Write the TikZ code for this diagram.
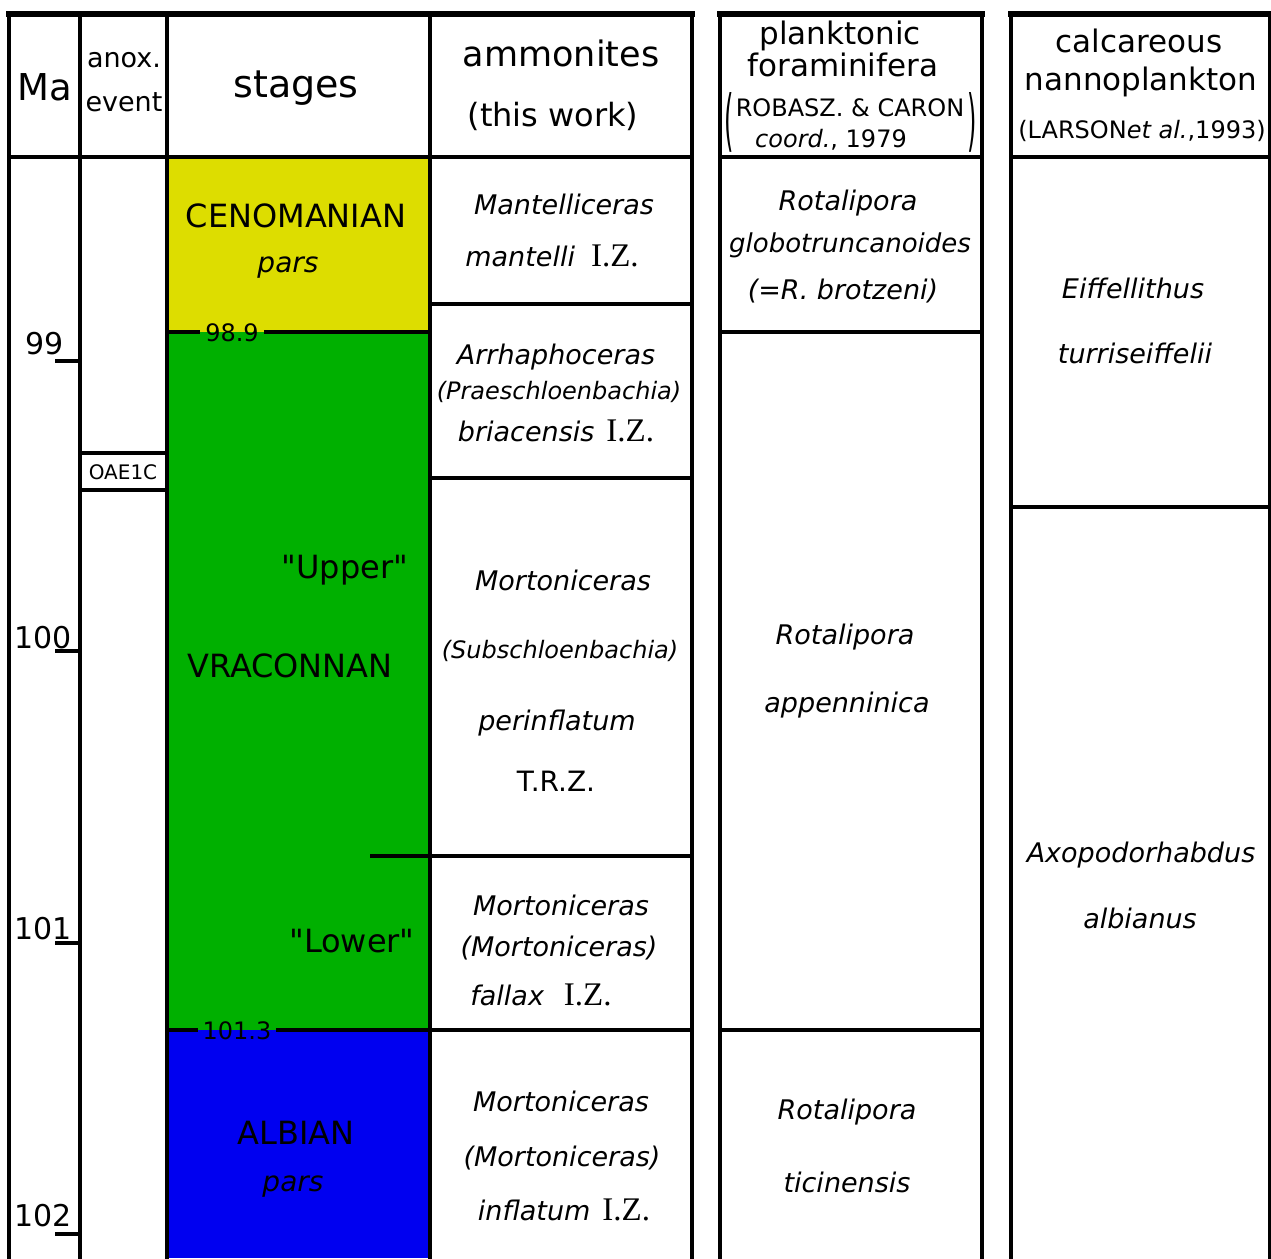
\documentclass[tikz,border=0pt]{standalone}
\usepackage{fontspec}
\setmainfont{DejaVu Sans}
\newfontfamily\rawfont{DejaVu Sans}
\newfontfamily\tmsfont{Liberation Serif}
\usepackage{graphicx}
\newcommand{\fsz}[1]{\fontsize{#1}{#1}\selectfont}
\newcommand{\dq}{{\rawfont\symbol{34}}}
\definecolor{cyel}{RGB}{221,221,0}
\definecolor{cgrn}{RGB}{0,176,0}
\definecolor{cblu}{RGB}{0,0,240}
\tikzset{
  grid/.style={line width=4.5pt, line cap=rect},
  topline/.style={line width=5.5pt, line cap=rect},
  txt/.style={anchor=base, inner sep=0pt},
  hd/.style={txt, font=\fsz{31}},
  sp/.style={txt, font=\fsz{27}\itshape},
  spp/.style={txt, font=\fsz{24}\itshape},
  stg/.style={txt, font=\fsz{32}},
  bnd/.style={txt, inner xsep=7pt, font=\fsz{24}},
  ma/.style={txt, font=\fsz{30}},
}
\newcommand{\IZ}{{\tmsfont\upshape\fsz{33}I.Z.}}
\begin{document}
\begin{tikzpicture}[x=1pt,y=-1pt]
\useasboundingbox (0,0) rectangle (1271,1258);
\fill[white] (0,0) rectangle (1271,1258);

% stage colour fills
\fill[cyel] (167,157) rectangle (430,332);
\fill[cgrn] (167,332) rectangle (430,1030);
\fill[cblu] (167,1030) rectangle (430,1258);

% ---------- block 1 grid ----------
\draw[grid] (9,14) -- (9,1258);
\draw[grid] (80,14) -- (80,1258);
\draw[grid] (167,14) -- (167,1258);
\draw[grid] (430,14) -- (430,1258);
\draw[grid] (692,14) -- (692,1258);
\draw[topline] (9,14) -- (692,14);
\draw[grid] (9,157) -- (692,157);
% anoxic event box
\draw[grid] (80,453) -- (167,453);
\draw[grid] (80,490) -- (167,490);
% ammonite zone boundaries
\draw[grid] (430,304) -- (692,304);
\draw[grid] (430,478) -- (692,478);
\draw[grid] (372,856) -- (692,856);

% ---------- block 2 grid ----------
\draw[grid] (720,14) -- (720,1258);
\draw[grid] (982,14) -- (982,1258);
\draw[topline] (720,14) -- (982,14);
\draw[grid] (720,157) -- (982,157);
\draw[grid] (720,332) -- (982,332);
\draw[grid] (720,1030) -- (982,1030);

% ---------- block 3 grid ----------
\draw[grid] (1011,14) -- (1011,1258);
\draw[grid] (1270,14) -- (1270,1258);
\draw[topline] (1011,14) -- (1271,14);
\draw[grid] (1011,157) -- (1271,157);
\draw[grid] (1011,507) -- (1271,507);

% ---------- Ma ticks ----------
\draw[grid] (57,361) -- (80,361);
\draw[grid] (57,651) -- (80,651);
\draw[grid] (57,943) -- (80,943);
\draw[grid] (57,1234) -- (80,1234);
\node[ma] (m99) at (45,354) {99};
\node[ma] (m100) at (43,648) {100};
\node[ma] (m101) at (43,939) {101};
\node[ma] (m102) at (43,1226) {102};

% ---------- headers ----------
\node[txt, font=\fsz{37}] (hMa) at (45,100) {Ma};
\node[txt, font=\fsz{27}] (hAn1) at (124,67) {anox.};
\node[txt, font=\fsz{27}] (hAn2) at (124,111) {event};
\node[txt, font=\fsz{38}] (hSt) at (296,97) {stages};
\node[txt, font=\fsz{35}] (hAm1) at (561,66) {ammonites};
\node[txt, font=\fsz{32}] (hAm2) at (553,126) {(this work)};
\node[hd] (hPf1) at (840,44) {planktonic};
\node[hd] (hPf2) at (843,76) {foraminifera};
\node[txt, font=\fsz{24}] (hPf3) at (850,116) {ROBASZ. \& CARON};
\node[txt, font=\fsz{24}] (hPf4) at (831,147) {\textit{coord.}, 1979};
\node[txt, anchor=center, font=\fsz{24}] (hPfL) at (729,122) {\scalebox{1}[2.8]{(}};
\node[txt, anchor=center, font=\fsz{24}] (hPfR) at (972,122) {\scalebox{1}[2.8]{)}};
\node[hd] (hCn1) at (1139,52) {calcareous};
\node[hd] (hCn2) at (1141,90) {nannoplankton};
\node[txt, font=\fsz{24}] (hCn3) at (1142,138) {(LARSON\textit{et al.},1993)};

% ---------- anoxic event ----------
\node[txt, font=\fsz{20}] (oae) at (123,479) {OAE1C};

% ---------- stages ----------
\node[stg] (cen) at (296,227) {CENOMANIAN};
\node[txt, font=\fsz{28}\itshape] (cenp) at (288,272) {pars};
\node[stg] (upp) at (345,578) {\dq Upper\dq};
\node[stg] (vra) at (290,677) {VRACONNAN};
\node[stg] (low) at (352,952) {\dq Lower\dq};
\node[stg] (alb) at (296,1144) {ALBIAN};
\node[txt, font=\fsz{28}\itshape] (albp) at (293,1191) {pars};
\node[bnd] (b989) at (232,341) {98.9};
\node[bnd] (b1013) at (237,1039) {101.3};
\draw[grid] (167,332) -- (b989.west |- 0,332);
\draw[grid] (b989.east |- 0,332) -- (430,332);
\draw[grid] (167,1030) -- (b1013.west |- 0,1030);
\draw[grid] (b1013.east |- 0,1030) -- (692,1030);

% ---------- ammonites ----------
\node[sp] (a1) at (564,214) {Mantelliceras};
\node[sp] (a2) at (552,266) {mantelli\hspace{16pt}\IZ};
\node[sp] (a3) at (556,364) {Arrhaphoceras};
\node[spp] (a4) at (559,399) {(Praeschloenbachia)};
\node[sp] (a5) at (556,441) {briacensis\hspace{12pt}\IZ};
\node[sp] (a6) at (563,590) {Mortoniceras};
\node[spp] (a7) at (560,658) {(Subschloenbachia)};
\node[sp] (a8) at (557,730) {perinflatum};
\node[txt, font=\fsz{28}] (a9) at (556,791) {T.R.Z.};
\node[sp] (a10) at (561,915) {Mortoniceras};
\node[sp] (a11) at (559,956) {(Mortoniceras)};
\node[sp] (a12) at (541,1005) {fallax\hspace{20pt}\IZ};
\node[sp] (a13) at (561,1111) {Mortoniceras};
\node[sp] (a14) at (562,1166) {(Mortoniceras)};
\node[sp] (a15) at (564,1220) {inflatum\hspace{12pt}\IZ};

% ---------- planktonic foraminifera ----------
\node[sp] (f1) at (848,210) {Rotalipora};
\node[txt, font=\fsz{26}\itshape] (f2) at (850,252) {globotruncanoides};
\node[sp] (f3) at (843,299) {(=R. brotzeni)};
\node[sp] (f4) at (845,644) {Rotalipora};
\node[sp] (f5) at (847,712) {appenninica};
\node[sp] (f6) at (847,1119) {Rotalipora};
\node[sp] (f7) at (847,1192) {ticinensis};

% ---------- calcareous nannoplankton ----------
\node[sp] (n1) at (1133,298) {Eiffellithus};
\node[sp] (n2) at (1135,363) {turriseiffelii};
\node[sp] (n3) at (1141,862) {Axopodorhabdus};
\node[sp] (n4) at (1140,928) {albianus};
\end{tikzpicture}
\end{document}
